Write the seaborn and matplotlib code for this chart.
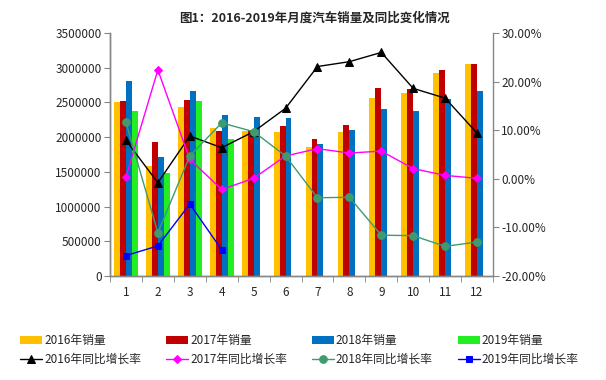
import matplotlib
matplotlib.use('Agg')
import matplotlib.pyplot as plt
import seaborn as sns
import pandas as pd
from matplotlib.ticker import FuncFormatter, FixedLocator

# 月份
months = [str(m) for m in range(1, 13)]

# 月度销量（辆）
sales_2016 = [2500000, 1580000, 2440000, 2130000, 2090000, 2070000, 1855000, 2070000, 2560000, 2640000, 2930000, 3060000]
sales_2017 = [2520000, 1937000, 2540000, 2090000, 2100000, 2160000, 1976000, 2180000, 2710000, 2690000, 2960000, 3060000]
sales_2018 = [2810000, 1720000, 2660000, 2320000, 2290000, 2270000, 1900000, 2105000, 2400000, 2380000, 2550000, 2660000]
sales_2019 = [2380000, 1480000, 2520000, 1976000]

# 同比增长率（%）
rate_2016 = [7.9, -0.8, 8.8, 6.4, 9.7, 14.5, 23.1, 24.1, 26.0, 18.6, 16.6, 9.4]
rate_2017 = [0.4, 22.4, 4.0, -2.2, 0.1, 4.7, 6.2, 5.3, 5.7, 2.1, 0.7, 0.1]
rate_2018 = [11.6, -11.1, 4.7, 11.5, 9.7, 4.7, -3.9, -3.8, -11.6, -11.7, -13.9, -13.0]
rate_2019 = [-15.8, -13.8, -5.2, -14.6]

years = ['2016', '2017', '2018', '2019']
bar_colors = ['#FFC000', '#C00000', '#0070C0', '#22EE22']
line_colors = ['#000000', '#FF00FF', '#3F9B6E', '#0000FF']
line_markers = ['^', 'D', 'o', 's']
marker_sizes = [6, 4, 5.5, 5]

rows = []
for yr, vals in zip(years, [sales_2016, sales_2017, sales_2018, sales_2019]):
    for m, v in zip(months, vals):
        rows.append({'month': m, 'year': yr, 'sales': v})
df = pd.DataFrame(rows)

sns.set_style('ticks')
plt.rcParams['font.family'] = ['Noto Sans CJK SC', 'DejaVu Sans']
plt.rcParams['axes.unicode_minus'] = False

fig = plt.figure(figsize=(6.06, 3.80), dpi=100)
ax = fig.add_axes([110 / 606, 1 - 276 / 380, (493 - 110) / 606, (276 - 33) / 380])

sns.barplot(data=df, x='month', y='sales', hue='year', order=months, hue_order=years,
            palette=bar_colors, saturation=1, width=0.74, linewidth=0, errorbar=None, ax=ax)
bar_handles, _ = ax.get_legend_handles_labels()
ax.get_legend().remove()

ax2 = ax.twinx()
rates = [rate_2016, rate_2017, rate_2018, rate_2019]
for yr, vals, c, mk, ms in zip(years, rates, line_colors, line_markers, marker_sizes):
    sns.lineplot(x=months[:len(vals)], y=vals, color=c, marker=mk, markersize=ms,
                 markeredgecolor=c, markerfacecolor=c, linewidth=1, sort=False,
                 label=f'{yr}年同比增长率', ax=ax2)
line_handles, _ = ax2.get_legend_handles_labels()
ax2.get_legend().remove()

ax.set_xlim(-0.5, 11.5)
ax.set_ylim(0, 3500000)
ax.set_yticks(range(0, 3500001, 500000))
ax.yaxis.set_major_formatter(FuncFormatter(lambda v, p: f'{int(v)}'))
ax2.set_ylim(-20, 30)
ax2.set_yticks(range(-20, 31, 10))
ax2.yaxis.set_major_formatter(FuncFormatter(lambda v, p: f'{v:.2f}%'))

ax.set_xlabel('')
ax.set_ylabel('')
ax2.set_ylabel('')
ax.xaxis.set_minor_locator(FixedLocator([i - 0.5 for i in range(13)]))
ax.tick_params(axis='x', which='major', length=0, pad=7, labelsize=8.5)
ax.tick_params(axis='x', which='minor', length=4, color='#868686')
ax.tick_params(axis='y', length=4, color='#868686', labelsize=8.5, pad=2)
ax2.tick_params(axis='y', length=4, color='#868686', labelsize=8.5, pad=2)

for a in (ax, ax2):
    a.spines['top'].set_visible(False)
    for s in ('left', 'right', 'bottom'):
        a.spines[s].set_color('#868686')
        a.spines[s].set_linewidth(1)
ax.spines['right'].set_visible(False)

fig.text(315 / 606, 1 - 18 / 380, '图1：2016-2019年月度汽车销量及同比变化情况',
         ha='center', va='center', fontsize=9, fontweight='bold')

handles, labels = [], []
for i, yr in enumerate(years):
    handles += [bar_handles[i], line_handles[i]]
    labels += [f'{yr}年销量', f'{yr}年同比增长率']
fig.legend(handles, labels, ncol=4, loc='center left', bbox_to_anchor=(20 / 606, 30 / 380),
           frameon=False, fontsize=8.5, handlelength=1.9, handletextpad=0.15,
           columnspacing=2.1, labelspacing=0.5, borderpad=0, borderaxespad=0)

fig.savefig('out.png', dpi=100)
